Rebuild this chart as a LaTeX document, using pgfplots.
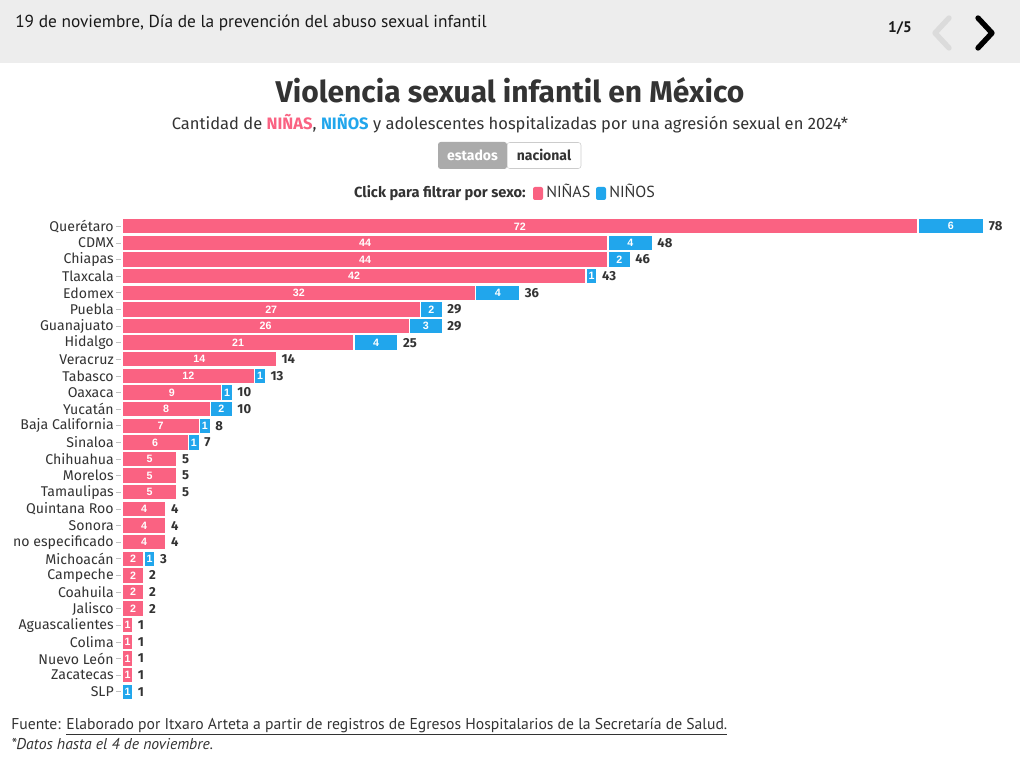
\documentclass[border=0pt]{standalone}
\usepackage{pgfplots}
\pgfplotsset{compat=1.18}
\usepackage{pgfplotstable}
\usepackage{fontspec}
\setmainfont{Fira Sans}
\newfontfamily\src{PT Sans}
\newfontfamily\lab{Liberation Sans}
\definecolor{pk}{HTML}{FA6282}
\definecolor{bl}{HTML}{21A6EC}
\definecolor{tx}{HTML}{333333}

\pgfplotstableread{
idx ninas ninos total
0 72 6 78
1 44 4 48
2 44 2 46
3 42 1 43
4 32 4 36
5 27 2 29
6 26 3 29
7 21 4 25
8 14 0 14
9 12 1 13
10 9 1 10
11 8 2 10
12 7 1 8
13 6 1 7
14 5 0 5
15 5 0 5
16 5 0 5
17 4 0 4
18 4 0 4
19 4 0 4
20 2 1 3
21 2 0 2
22 2 0 2
23 2 0 2
24 1 0 1
25 1 0 1
26 1 0 1
27 1 0 1
28 0 1 1
}\data

\pgfplotsset{
  base/.style={
    at={(91.5pt,-163.5pt)}, anchor=north west,
    scale only axis, width=646.5pt, height=361.5pt,
    xmin=0, xmax=78, ymin=-0.5, ymax=28.5, y dir=reverse,
    clip=false,
    /pgf/number format/assume math mode=true,
  }
}

\begin{document}
\begin{tikzpicture}
\fill[white] (0pt,0pt) rectangle (765pt,-571.5pt);
\begin{scope}[x=0.75pt,y=-0.75pt]
% header band
\fill[black!7] (0,0) rectangle (1020,63);
\node[anchor=base west, inner sep=0, font=\src\fontsize{13}{15}\selectfont, text=black!90] at (15,28) {19 de noviembre, Día de la prevención del abuso sexual infantil};
\node[anchor=base east, inner sep=0, font=\src\bfseries\fontsize{11.5}{13}\selectfont, text=black!90] at (912,33) {1/5};
\draw[black!14, line width=4pt, line cap=round, line join=round] (949,18) -- (935,33) -- (949,48);
\draw[black, line width=4pt, line cap=round, line join=round] (978,18) -- (992,33) -- (978,48);
% title
\node[anchor=base, inner sep=0, font=\bfseries\fontsize{22.5}{26}\selectfont, text=tx] at (510,103) {Violencia sexual infantil en México};
\node[anchor=base, inner sep=0, font=\fontsize{12.4}{14}\selectfont, text=tx] at (510,130) {Cantidad de \textcolor{pk}{\bfseries NIÑAS}, \textcolor{bl}{\bfseries NIÑOS} y adolescentes hospitalizadas por una agresión sexual en 2024*};
% buttons
\draw[black!20, rounded corners=2pt, fill=white] (507,142.5) rectangle (581,168.5);
\fill[black!33, rounded corners=2pt] (438,142) rectangle (507,169);
\node[anchor=base, inner sep=0, font=\bfseries\fontsize{10.5}{12}\selectfont, text=white] at (472.5,161) {estados};
\node[anchor=base, inner sep=0, font=\bfseries\fontsize{10.5}{12}\selectfont, text=tx] at (544,161) {nacional};
% legend
\node[anchor=base east, inner sep=0, font=\bfseries\fontsize{11}{13}\selectfont, text=tx] at (526,198) {Click para filtrar por sexo:};
\fill[pk, rounded corners=1.5pt] (533,187) rectangle (543,200);
\node[anchor=base west, inner sep=0, font=\src\fontsize{12}{14}\selectfont, text=tx] at (546,198) {NIÑAS};
\fill[bl, rounded corners=1.5pt] (596,187) rectangle (606,200);
\node[anchor=base west, inner sep=0, font=\src\fontsize{12}{14}\selectfont, text=tx] at (609,198) {NIÑOS};
% footer
\node[anchor=base west, inner sep=0, font=\src\fontsize{11.75}{13}\selectfont, text=tx] at (11,729) {Fuente: \underline{Elaborado por Itxaro Arteta a partir de registros de Egresos Hospitalarios de la Secretaría de Salud.}};
\node[anchor=base west, inner sep=0, font=\src\itshape\fontsize{11.75}{13}\selectfont, text=tx] at (11,749) {*Datos hasta el 4 de noviembre.};
\end{scope}

\begin{axis}[base,
  xbar stacked, bar width=0.96,
  axis line style={draw=none},
  xtick=\empty,
  ytick={0,...,28}, ytick pos=left,
  yticklabels={Querétaro,CDMX,Chiapas,Tlaxcala,Edomex,Puebla,Guanajuato,Hidalgo,Veracruz,Tabasco,Oaxaca,Yucatán,Baja California,Sinaloa,Chihuahua,Morelos,Tamaulipas,Quintana Roo,Sonora,no especificado,Michoacán,Campeche,Coahuila,Jalisco,Aguascalientes,Colima,Nuevo León,Zacatecas,SLP},
  yticklabel style={font=\fontsize{10.6}{12}\selectfont, text=tx, inner sep=1.5pt},
  major tick length=4.5pt, tick align=outside,
  tick style={black!25, line width=0.5pt},
]
\addplot[fill=pk, draw=white, line width=1.2pt] table[x=ninas, y=idx] {\data};
\addplot[fill=bl, draw=white, line width=1.2pt] table[x=ninos, y=idx] {\data};
\end{axis}

\begin{axis}[base, hide axis, unbounded coords=discard]
\addplot[draw=none, nodes near coords, point meta=explicit,
  nodes near coords style={anchor=center, inner sep=0, font=\lab\bfseries\fontsize{8}{9}\selectfont, text=white}]
  table[x expr={\thisrow{ninas}>0 ? \thisrow{ninas}/2 : nan}, y=idx, meta=ninas] {\data};
\addplot[draw=none, nodes near coords, point meta=explicit,
  nodes near coords style={anchor=center, inner sep=0, font=\lab\bfseries\fontsize{8}{9}\selectfont, text=white}]
  table[x expr={\thisrow{ninos}>0 ? \thisrow{ninas}+\thisrow{ninos}/2 : nan}, y=idx, meta=ninos] {\data};
\addplot[draw=none, nodes near coords, point meta=explicit,
  nodes near coords style={anchor=west, inner sep=0, xshift=3.5pt, font=\bfseries\fontsize{9.8}{11}\selectfont, text=tx}]
  table[x=total, y=idx, meta=total] {\data};
\end{axis}
\end{tikzpicture}
\end{document}
